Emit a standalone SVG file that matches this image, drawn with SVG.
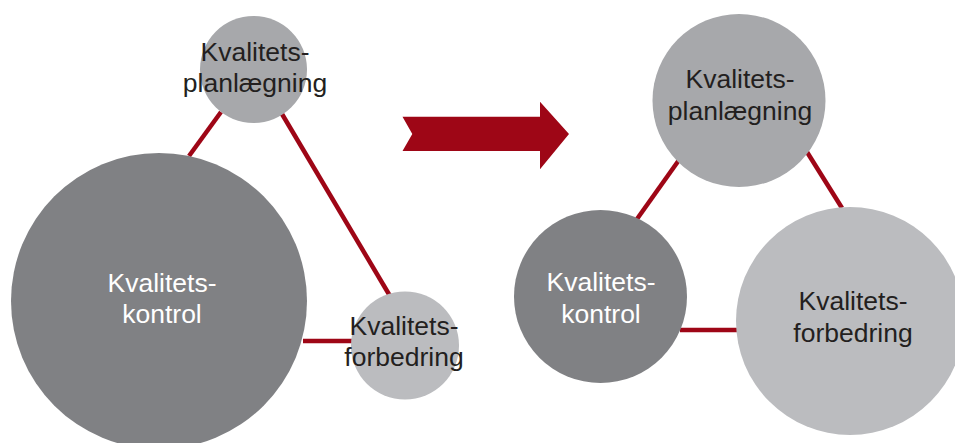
<svg xmlns="http://www.w3.org/2000/svg" width="955" height="443" viewBox="0 0 955 443">
<style>
.lbl{font-family:"Liberation Sans",Arial,sans-serif;font-size:26.5px;text-anchor:middle}
.dk{fill:#231f20}
.wt{fill:#ffffff}
.con{stroke:#9e0616;stroke-width:4.5;fill:none}
</style>
<rect width="955" height="443" fill="#ffffff"/>
<g id="connectors">
<line class="con" x1="189" y1="156" x2="221" y2="112"/>
<line class="con" x1="282" y1="114" x2="390" y2="296"/>
<line class="con" x1="303" y1="341" x2="354" y2="341"/>
<line class="con" x1="637" y1="219" x2="679" y2="160"/>
<line class="con" x1="807" y1="152" x2="842" y2="208"/>
<line class="con" x1="680" y1="330" x2="738" y2="330"/>
</g>
<g id="arrow">
<polygon points="402.5,116.7 540,116.7 540,101.7 569,134 540,169.3 540,151 402.5,151 412.3,134" fill="#9e0616"/>
</g>
<g id="l-planlaegning">
<circle cx="253.5" cy="69.5" r="53.5" fill="#a7a8ab"/>
<text class="lbl dk" x="255" y="61">Kvalitets-</text>
<text class="lbl dk" x="255" y="92">planlægning</text>
</g>
<g id="l-kontrol">
<circle cx="159" cy="301" r="148" fill="#808184"/>
<text class="lbl wt" x="162" y="292">Kvalitets-</text>
<text class="lbl wt" x="162" y="323">kontrol</text>
</g>
<g id="l-forbedring">
<circle cx="405" cy="345.5" r="54" fill="#bbbcbf"/>
<text class="lbl dk" x="404" y="335">Kvalitets-</text>
<text class="lbl dk" x="404" y="366">forbedring</text>
</g>
<g id="r-planlaegning">
<circle cx="739" cy="100.5" r="86.5" fill="#a7a8ab"/>
<text class="lbl dk" x="740" y="88">Kvalitets-</text>
<text class="lbl dk" x="740" y="120">planlægning</text>
</g>
<g id="r-kontrol">
<circle cx="600.5" cy="296.5" r="86.5" fill="#808184"/>
<text class="lbl wt" x="601" y="291">Kvalitets-</text>
<text class="lbl wt" x="601" y="323">kontrol</text>
</g>
<g id="r-forbedring">
<circle cx="850" cy="321" r="114" fill="#bbbcbf"/>
<text class="lbl dk" x="853" y="310">Kvalitets-</text>
<text class="lbl dk" x="853" y="342">forbedring</text>
</g>
</svg>
